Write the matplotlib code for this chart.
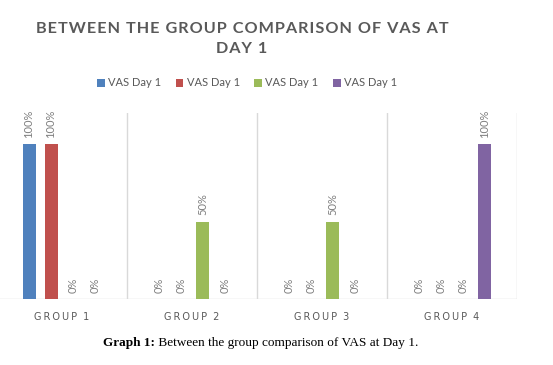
import numpy as np
import matplotlib.pyplot as plt

groups = ['GROUP 1', 'GROUP 2', 'GROUP 3', 'GROUP 4']
series = ['VAS Day 1', 'VAS Day 1', 'VAS Day 1', 'VAS Day 1']
values = [
    [1.0, 0.0, 0.0, 0.0],
    [1.0, 0.0, 0.0, 0.0],
    [0.0, 0.5, 0.5, 0.0],
    [0.0, 0.0, 0.0, 1.0],
]
colors = ['#4F81BD', '#C0504D', '#9BBB59', '#8064A2']
title = 'BETWEEN THE GROUP COMPARISON OF VAS AT\nDAY 1'
caption = 'Between the group comparison of VAS at Day 1.'

def spaced(s, sep='\u200a'):
    return '\n'.join(sep.join(line) for line in s.split('\n'))

fig = plt.figure(figsize=(5.53, 3.65), dpi=100)
ax = fig.add_axes([-3/553, 66/365, 520/553, 186/365])

x = np.arange(len(groups))
w = 0.1
step = 0.169
for i, vals in enumerate(values):
    pos = x + (i - 1.5) * step
    ax.bar(pos, vals, width=w, color=colors[i], label=series[i], zorder=3)
    for p, v in zip(pos, vals):
        ax.text(p, v + 0.04, f'{v:.0%}', rotation=90, ha='center', va='bottom',
                fontsize=8, color='#7f7f7f', family='Lato')

ax.set_xlim(-0.5, 3.5)
ax.set_ylim(0, 1.2)
for s in ax.spines.values():
    s.set_visible(False)
ax.axhline(0, color='#d9d9d9', lw=1, zorder=2)
for b in np.arange(-0.5, 4, 1):
    ax.axvline(b, color='#d9d9d9', lw=1, zorder=1)
ax.set_yticks([])
ax.set_xticks(x)
ax.set_xticklabels([spaced(g.replace(' ', '\u2009'), '\u2009') for g in groups],
                   fontsize=7, color='#595959', family='DejaVu Sans')
ax.tick_params(axis='x', length=0, pad=9)

fig.text(242/553, 1 - 39/365, spaced(title),
         ha='center', va='center', fontsize=11.7, fontweight='bold',
         color='#595959', family='Lato', linespacing=1.5)

fig.legend(loc='center', bbox_to_anchor=(247/553, 1 - 83/365), ncol=4,
           frameon=False, handlelength=0.7, handleheight=0.7, handletextpad=0.3,
           columnspacing=1.3, prop={'family': 'Lato', 'size': 8}, labelcolor='#595959')

# caption: bold label, then plain text right after it
t1 = fig.text(103/553, 1 - 346/365, 'Graph 1:', ha='left', va='baseline',
              fontsize=9.5, family='Liberation Serif', fontweight='bold', color='black')
ax.annotate(' ' + caption, xy=(1, 0), xycoords=t1,
            ha='left', va='bottom', fontsize=9.5, family='Liberation Serif', color='black',
            annotation_clip=False)

fig.savefig('out.png', dpi=100)
